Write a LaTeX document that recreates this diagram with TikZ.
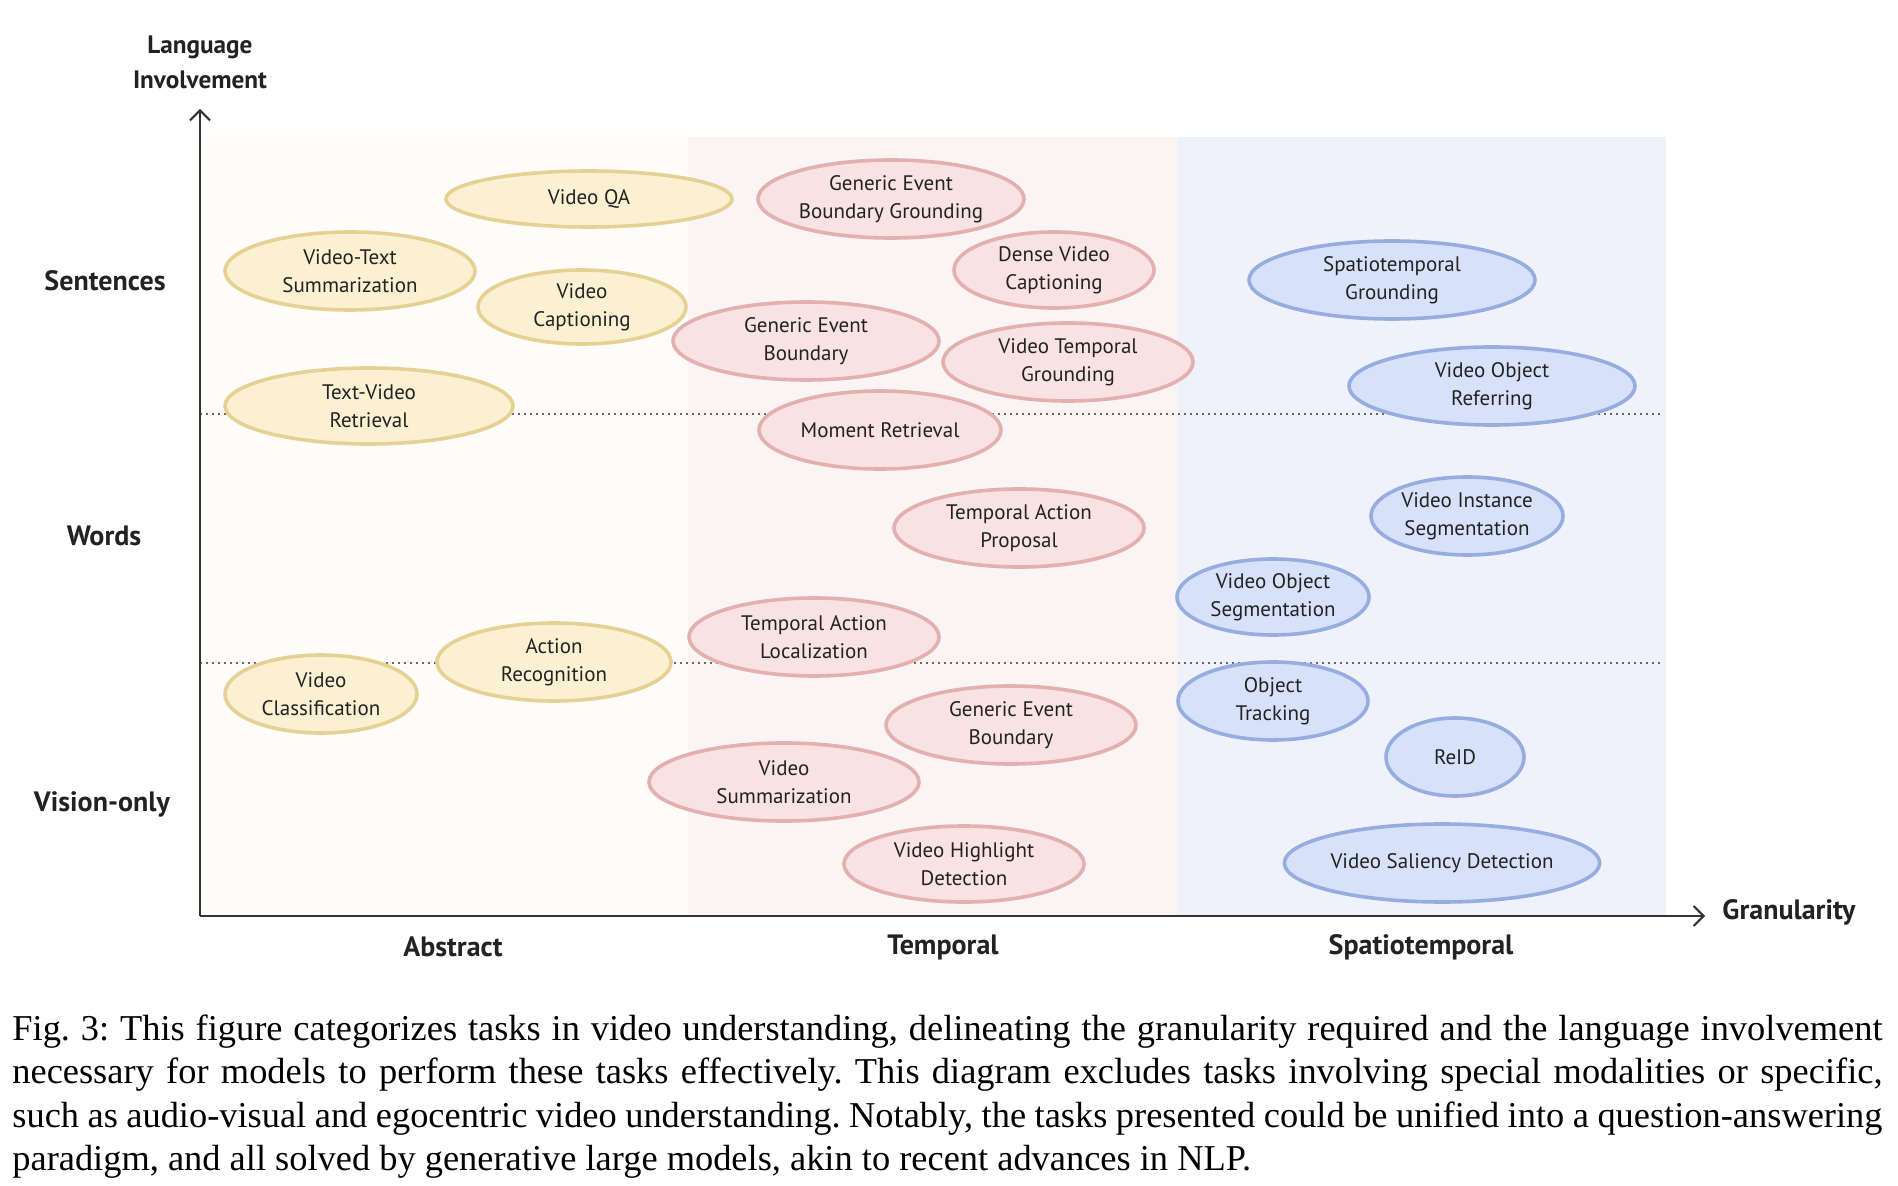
\documentclass[tikz,border=0pt]{standalone}
\usepackage{fontspec}
\setmainfont{PT Sans}
\newfontfamily\capfont{Liberation Serif}
\usetikzlibrary{shapes.geometric,arrows.meta}
\definecolor{bandA}{HTML}{FEFCF8}
\definecolor{bandT}{HTML}{FAF4F4}
\definecolor{bandS}{HTML}{EFF2FA}
\definecolor{yfill}{HTML}{FCF0D3}
\definecolor{ydraw}{HTML}{E6D195}
\definecolor{pfill}{HTML}{F8E2E2}
\definecolor{pdraw}{HTML}{E3AFAF}
\definecolor{bfill}{HTML}{D7E2FA}
\definecolor{bdraw}{HTML}{97ADE0}
\definecolor{txt}{HTML}{222222}
\definecolor{axisc}{HTML}{333333}
\begin{document}
\begin{tikzpicture}[x=0.5pt,y=-0.5pt,
  task/.style={ellipse, inner sep=0pt, line width=1.8pt, align=center, text=txt,
    font=\fontsize{10.5}{14}\selectfont, yshift=-1pt},
  ytask/.style={task, fill=yfill, draw=ydraw},
  ptask/.style={task, fill=pfill, draw=pdraw},
  btask/.style={task, fill=bfill, draw=bdraw},
  sz/.style 2 args={minimum width=#1*0.5pt, minimum height=#2*0.5pt},
  axlab/.style={font=\bfseries\fontsize{14}{17.5}\selectfont, text=txt, align=center, inner sep=0pt},
  guide/.style={draw=black!60, line width=0.8pt, dash pattern=on 0.8pt off 2.2pt},
  axisline/.style={draw=axisc, line width=1pt, -{Straight Barb[length=5pt,width=10pt]}}
]
\useasboundingbox (0,0) rectangle (1898,1186);
% bands
\fill[bandA] (200,137) rectangle (688,916);
\fill[bandT] (688,137) rectangle (1177,916);
\fill[bandS] (1177,137) rectangle (1666,916);
% guides
\coordinate (g1a) at (200,414); \coordinate (g1b) at (1662,414);
\coordinate (g2a) at (200,663); \coordinate (g2b) at (1662,663);
\draw[guide] (g1a) -- (g1b);
\draw[guide] (g2a) -- (g2b);
% axes
\coordinate (O) at (200,916);
\coordinate (Ytop) at (200,109);
\coordinate (Xend) at (1705,916);
\draw[axisline] (O) -- (Ytop);
\draw[axisline] (O) -- (Xend);
% axis labels
\node[axlab, font=\bfseries\fontsize{12.6}{17.5}\selectfont] (lang) at (200,62) {Language\\Involvement};
\node[axlab] (gran) at (1789,912) {Granularity};
\node[axlab] (sent) at (105,281) {Sentences};
\node[axlab] (words) at (104,536) {Words};
\node[axlab] (vis) at (102,804) {Vision-only};
\node[axlab] (abs) at (453,947) {Abstract};
\node[axlab] (tmp) at (943,947) {Temporal};
\node[axlab] (spt) at (1421,947) {Spatiotemporal};
% yellow tasks
\node[ytask, sz={286}{56}] (vqa) at (589,197) {Video QA};
\node[ytask, sz={250}{78}] (vts) at (350,269) {Video-Text\\Summarization};
\node[ytask, sz={208}{74}] (vcap) at (582,305) {Video\\Captioning};
\node[ytask, sz={288}{76}] (tvr) at (369,404) {Text-Video\\Retrieval};
\node[ytask, sz={192}{78}] (vcls) at (321,692) {Video\\Classification};
\node[ytask, sz={234}{78}] (actr) at (554,660) {Action\\Recognition};
% pink tasks
\node[ptask, sz={266}{78}] (gebg) at (891,197) {Generic Event\\Boundary Grounding};
\node[ptask, sz={200}{76}] (dvc) at (1054,268) {Dense Video\\Captioning};
\node[ptask, sz={266}{78}] (geb1) at (806,339) {Generic Event\\Boundary};
\node[ptask, sz={250}{78}] (vtg) at (1068,360) {Video Temporal\\Grounding};
\node[ptask, sz={242}{78}] (mr) at (880,428) {Moment Retrieval};
\node[ptask, sz={250}{78}] (tap) at (1019,526) {Temporal Action\\Proposal};
\node[ptask, sz={250}{78}] (tal) at (814,635) {Temporal Action\\Localization};
\node[ptask, sz={250}{78}] (geb2) at (1011,723) {Generic Event\\Boundary};
\node[ptask, sz={270}{78}] (vsum) at (784,780) {Video\\Summarization};
\node[ptask, sz={240}{76}] (vhd) at (964,862) {Video Highlight\\Detection};
% blue tasks
\node[btask, sz={286}{78}] (stg) at (1392,278) {Spatiotemporal\\Grounding};
\node[btask, sz={286}{78}] (vor) at (1492,384) {Video Object\\Referring};
\node[btask, sz={192}{78}] (vis2) at (1467,514) {Video Instance\\Segmentation};
\node[btask, sz={192}{76}] (vos) at (1273,595) {Video Object\\Segmentation};
\node[btask, sz={190}{78}] (ot) at (1273,699) {Object\\Tracking};
\node[btask, sz={138}{78}] (reid) at (1455,755) {ReID};
\node[btask, sz={314}{78}] (vsd) at (1442,861) {Video Saliency Detection};
% caption
\node[anchor=north west, inner sep=0pt, text width=935pt, align=justify,
  font=\capfont\fontsize{18.2}{21.8}\selectfont] (cap) at (12,1014)
  {\frenchspacing\hyphenpenalty=10000\exhyphenpenalty=10000 Fig. 3: This figure categorizes tasks in video understanding, delineating the granularity required and the language involvement\linebreak
  necessary for models to perform these tasks effectively. This diagram excludes tasks involving special modalities or specific,\linebreak
  such as audio-visual and egocentric video understanding. Notably, the tasks presented could be unified into a question-answering\linebreak
  paradigm, and all solved by generative large models, akin to recent advances in NLP.};
\end{tikzpicture}
\end{document}
